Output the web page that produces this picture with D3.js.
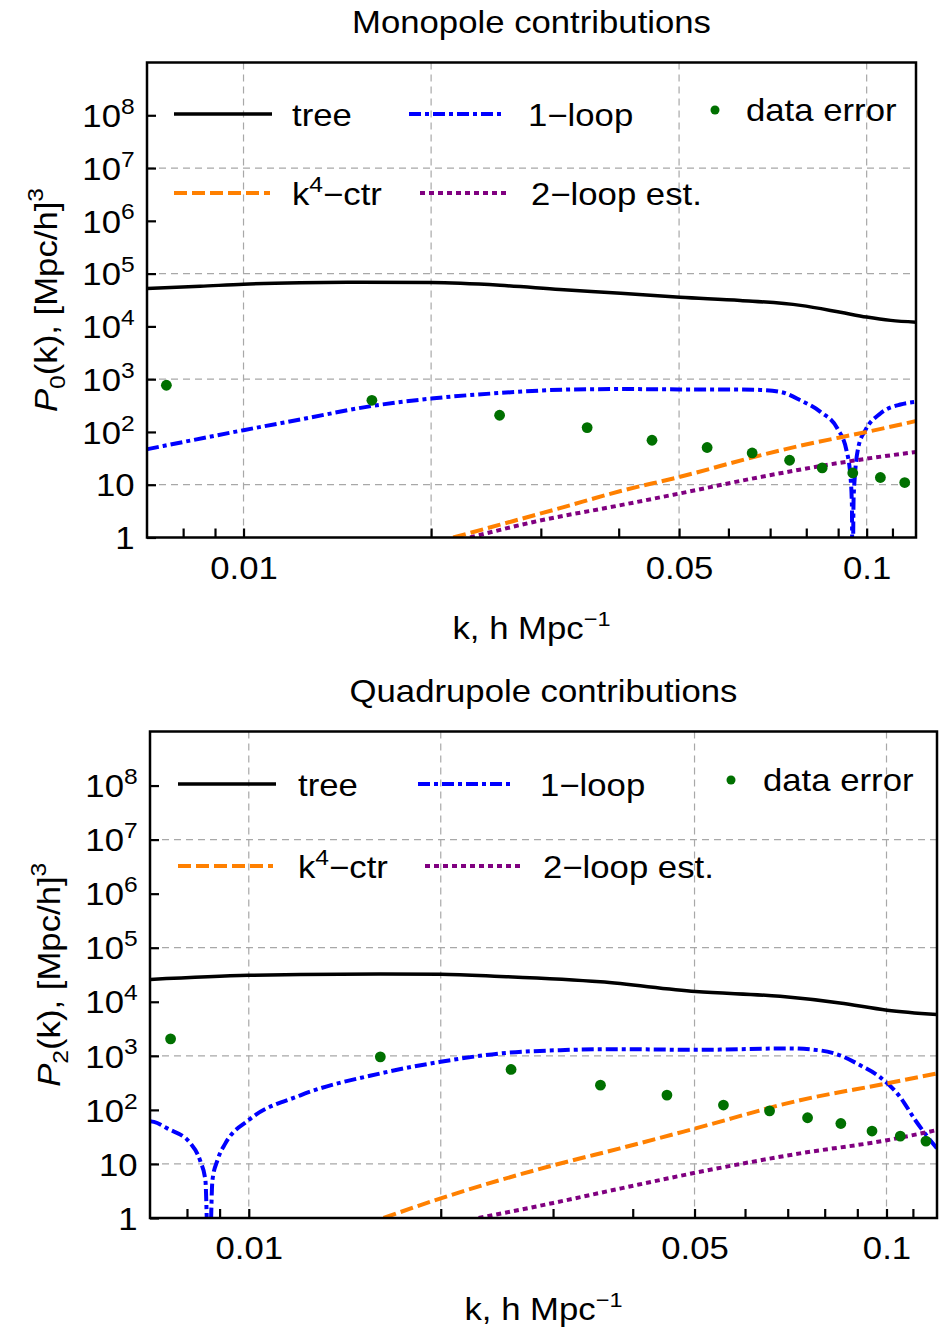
<!DOCTYPE html>
<html><head><meta charset="utf-8">
<script src="https://cdn.jsdelivr.net/npm/d3@7"></script>
<style>
body{margin:0;background:#fff}
svg text{font-family:"Liberation Sans",Arial,Helvetica,sans-serif;fill:#000}
</style>
</head><body>
<svg id="c" width="942" height="1327"></svg>
<script>
// ---------- data ----------
const kDomain = [0.007, 0.12];
const pDomain = [1, 1e9];
const kMajorTicks = [0.01, 0.05, 0.1];
const kTickLabels = ["0.01", "0.05", "0.1"];
const kMinorTicks = [0.008, 0.009, 0.02, 0.03, 0.04, 0.06, 0.07, 0.08, 0.09, 0.11];
const kGrid = [0.01, 0.02, 0.05, 0.1];
const pTicks = [1, 10, 1e2, 1e3, 1e4, 1e5, 1e6, 1e7, 1e8];
const pGrid = [10, 1e3, 1e5, 1e7];
const legendNames = ["tree", "1\u2212loop", "data error", "k4\u2212ctr", "2\u2212loop est."];
const panelTitles = ["Monopole contributions", "Quadrupole contributions"];
const yLabelSubs = ["0", "2"];

// Monopole
const monoTree = [[0.0070,5.25e4],[0.00852,5.75e4],[0.01,6.3e4],[0.01233,6.7e4],[0.01539,6.85e4],[0.02,6.75e4],[0.0258,6.0e4],[0.0322,5.0e4],[0.0403,4.25e4],[0.0502,3.55e4],[0.0627,3.1e4],[0.0783,2.5e4],[0.0908,1.85e4],[0.1,1.5e4],[0.1093,1.3e4],[0.1203,1.2e4]];
const monoLoop = [[0.0070,47],[0.01,108],[0.01233,172],[0.01609,311],[0.02,429],[0.02582,548],[0.03307,635],[0.0403,650],[0.05,640],[0.06,640],[0.0675,625],[0.0727,575],[0.0783,398],[0.0843,240],[0.0898,115],[0.0928,45],[0.0942,14],[0.0947,4],[0.0949,0.05],[0.0953,6],[0.097,52],[0.0995,107],[0.1052,224],[0.1133,331],[0.1203,372]];
const monoK4 = [[0.0217,1],[0.0258,1.75],[0.0322,3.6],[0.0403,7.6],[0.05,14],[0.0675,36],[0.0783,55],[0.1,100],[0.1203,162]];
const mono2Loop = [[0.0231,1],[0.0292,1.97],[0.0403,4.1],[0.05,6.8],[0.0675,14],[0.0942,28],[0.1203,42]];
const monoErrK = [0.00752,0.01607,0.02576,0.0356,0.04524,0.05546,0.0655,0.07522,0.08485,0.095,0.1052,0.1151];
const monoErrP = [767,398,207,121,69.6,50.7,40,29.1,20.8,16.7,13.7,11];

// Quadrupole
const quadTree = [[0.00701,2.59e4],[0.01,3.09e4],[0.01205,3.2e4],[0.01608,3.27e4],[0.02,3.24e4],[0.0248,2.95e4],[0.0356,2.34e4],[0.0502,1.55e4],[0.0681,1.26e4],[0.0845,9.5e3],[0.1002,7.0e3],[0.12,5.8e3]];
const quadLoop = [[0.0070,62],[0.0071,60],[0.00745,45.5],[0.0081,24],[0.0084,11],[0.00855,5],[0.00866,0.05],[0.00877,5],[0.00893,11.7],[0.00919,24],[0.01,65],[0.01205,186],[0.01608,473],[0.02,776],[0.0248,1107],[0.0308,1274],[0.0382,1330],[0.0502,1290],[0.0702,1371],[0.0787,1259],[0.0845,1023],[0.0908,676],[0.0976,407],[0.105,174],[0.1109,65],[0.1171,27.5],[0.12,19.5]];
const quadK4 = [[0.01627,1],[0.02,2.31],[0.0248,5.04],[0.0308,10.2],[0.0382,19.4],[0.0502,45.5],[0.0732,151],[0.1002,309],[0.12,473]];
const quad2Loop = [[0.02293,1],[0.03003,1.9],[0.0382,3.5],[0.0502,6.89],[0.0732,15.7],[0.1002,27.5],[0.12,42.4]];
const quadErrK = [0.00754,0.01608,0.02578,0.0356,0.04526,0.0555,0.06556,0.0752,0.0848,0.0949,0.1051,0.1153];
const quadErrP = [2060,959,560,287,188,123,96,71.5,56,40.6,32.8,26.5];

// ---------- styles ----------
const FONT = 31, SX = 1.12;
const C = {tree:"#000", loop:"#0000ff", k4:"#ff8000", two:"#800080", err:"#007000", grid:"#a8a8a8"};
const styles = {
  tree:{stroke:C.tree, w:3.5, dash:null},
  loop:{stroke:C.loop, w:4, dash:"12,4,4,4"},
  k4:{stroke:C.k4, w:4, dash:"13,5"},
  two:{stroke:C.two, w:4, dash:"5,4"}
};

const svg = d3.select("#c");

function stext(parent, x, y, anchor, size, rotate) {
  const g = parent.append("g").attr("transform",
    `translate(${x},${y})` + (rotate ? ` rotate(${rotate})` : "") + ` scale(${SX},1)`);
  return g.append("text").attr("text-anchor", anchor).attr("font-size", size);
}

function panel(cfg) {
  const {left, right, top, bottom} = cfg.box;
  const x = d3.scaleLog().domain(kDomain).range([left, right]);
  const y = d3.scaleLog().domain(pDomain).range([bottom, top]);
  const g = svg.append("g");
  const clipId = "clip" + cfg.id;
  svg.append("clipPath").attr("id", clipId).append("rect")
    .attr("x", left).attr("y", top).attr("width", right-left).attr("height", bottom-top);

  // grid
  g.append("g").selectAll("line").data(kGrid).join("line")
    .attr("x1", d=>x(d)).attr("x2", d=>x(d)).attr("y1", top).attr("y2", bottom)
    .attr("stroke", C.grid).attr("stroke-width", 1.2).attr("stroke-dasharray", "7,5");
  g.append("g").selectAll("line").data(pGrid).join("line")
    .attr("y1", d=>y(d)).attr("y2", d=>y(d)).attr("x1", left).attr("x2", right)
    .attr("stroke", C.grid).attr("stroke-width", 1.2).attr("stroke-dasharray", "7,5");

  // curves
  const line = d3.line().x(d=>x(d[0])).y(d=>y(Math.max(d[1], 1e-3))).curve(d3.curveMonotoneX);
  const plot = g.append("g").attr("clip-path", `url(#${clipId})`);
  const series = [[cfg.tree, "tree"], [cfg.loop, "loop"], [cfg.k4, "k4"], [cfg.two, "two"]];
  series.forEach(([data, key]) => {
    const s = styles[key];
    plot.append("path").datum(data).attr("d", line).attr("fill", "none")
      .attr("stroke", s.stroke).attr("stroke-width", s.w)
      .attr("stroke-dasharray", s.dash).attr("stroke-linejoin", "round");
  });
  plot.selectAll("circle").data(cfg.errK).join("circle")
    .attr("cx", d=>x(d)).attr("cy", (d,i)=>y(cfg.errP[i])).attr("r", 5.4).attr("fill", C.err);

  // axes
  const labelMap = new Map(kMajorTicks.map((k,i)=>[k, kTickLabels[i]]));
  const xa = g.append("g").attr("transform", `translate(0,${bottom})`)
    .call(d3.axisBottom(x).tickValues(kMajorTicks.concat(kMinorTicks))
      .tickSize(-9).tickPadding(19).tickFormat(d=>labelMap.get(d) || ""));
  xa.select(".domain").remove();
  xa.selectAll(".tick line").attr("stroke", "#000").attr("stroke-width", 2.2);
  xa.selectAll(".tick text").attr("font-size", FONT).attr("font-family", null)
    .attr("transform", `scale(${SX},1)`);

  const ya = g.append("g").attr("transform", `translate(${left},0)`)
    .call(d3.axisLeft(y).tickValues(pTicks).tickSize(-9).tickPadding(11).tickFormat(""));
  ya.select(".domain").remove();
  ya.selectAll(".tick line").attr("stroke", "#000").attr("stroke-width", 2.2);
  ya.selectAll(".tick text").attr("font-size", FONT).attr("font-family", null)
    .attr("transform", `scale(${SX},1)`).attr("dy", "0.36em")
    .each(function(d) {
      const t = d3.select(this);
      const e = Math.round(Math.log10(d));
      if (e === 0) t.text("1");
      else if (e === 1) t.text("10");
      else {
        t.append("tspan").text("10");
        t.append("tspan").attr("font-size", 22).attr("dy", -13).text(e);
      }
    });

  // frame
  g.append("rect").attr("x", left).attr("y", top).attr("width", right-left).attr("height", bottom-top)
    .attr("fill", "none").attr("stroke", "#000").attr("stroke-width", 2.5);

  // title
  stext(g, (left+right)/2, cfg.titleY, "middle", FONT).text(cfg.title);

  // x label
  const xl = stext(g, (left+right)/2, cfg.xLabelY, "middle", FONT);
  xl.append("tspan").text("k, h Mpc");
  xl.append("tspan").attr("font-size", 21).attr("dy", -13).text("\u22121");

  // y label
  const yl = stext(g, cfg.yLabelX, (top+bottom)/2, "middle", FONT, -90);
  yl.append("tspan").attr("font-style", "italic").text("P");
  yl.append("tspan").attr("font-size", 22).attr("dy", 8).text(cfg.sub);
  yl.append("tspan").attr("dy", -8).text("(k), [Mpc/h]");
  yl.append("tspan").attr("font-size", 22).attr("dy", -14).text("3");

  // legend
  const L = cfg.legend;
  const lg = g.append("g");
  const sample = (key, x1, x2, yy) => {
    const s = styles[key];
    lg.append("line").attr("x1", x1).attr("x2", x2).attr("y1", yy).attr("y2", yy)
      .attr("stroke", s.stroke).attr("stroke-width", key === "tree" ? 3.5 : 4)
      .attr("stroke-dasharray", s.dash);
  };
  sample("tree", L.tree[0], L.tree[1], L.r1);
  stext(lg, L.tree[2], L.r1 + 12, "start", FONT).text(legendNames[0]);
  sample("loop", L.loop[0], L.loop[1], L.r1);
  stext(lg, L.loop[2], L.r1 + 12, "start", FONT).text(legendNames[1]);
  lg.append("circle").attr("cx", L.dot[0]).attr("cy", L.r1 - 4).attr("r", 4.5).attr("fill", C.err);
  stext(lg, L.dot[1], L.r1 + 7, "start", FONT).text(legendNames[2]);
  sample("k4", L.k4[0], L.k4[1], L.r2);
  const kt = stext(lg, L.k4[2], L.r2 + 12, "start", FONT);
  kt.append("tspan").text("k");
  kt.append("tspan").attr("font-size", 22).attr("dy", -13).text("4");
  kt.append("tspan").attr("dy", 13).text("\u2212ctr");
  sample("two", L.two[0], L.two[1], L.r2);
  stext(lg, L.two[2], L.r2 + 12, "start", FONT).text(legendNames[4]);
}

panel({
  id: 1, box: {left:147, right:916, top:62.5, bottom:537.5},
  tree: monoTree, loop: monoLoop, k4: monoK4, two: mono2Loop, errK: monoErrK, errP: monoErrP,
  title: panelTitles[0], titleY: 33, xLabelY: 639, yLabelX: 57, sub: yLabelSubs[0],
  legend: {r1:114, r2:193, tree:[174,272,292], loop:[409,503,528], dot:[715,746], k4:[174,270,292], two:[420,508,531]}
});
panel({
  id: 2, box: {left:150, right:937, top:731.5, bottom:1218},
  tree: quadTree, loop: quadLoop, k4: quadK4, two: quad2Loop, errK: quadErrK, errP: quadErrP,
  title: panelTitles[1], titleY: 702, xLabelY: 1320, yLabelX: 60, sub: yLabelSubs[1],
  legend: {r1:784, r2:866, tree:[178,276,298], loop:[418,513,540], dot:[731,763], k4:[178,273,298], two:[425,520,543]}
});
</script>
</body></html>
